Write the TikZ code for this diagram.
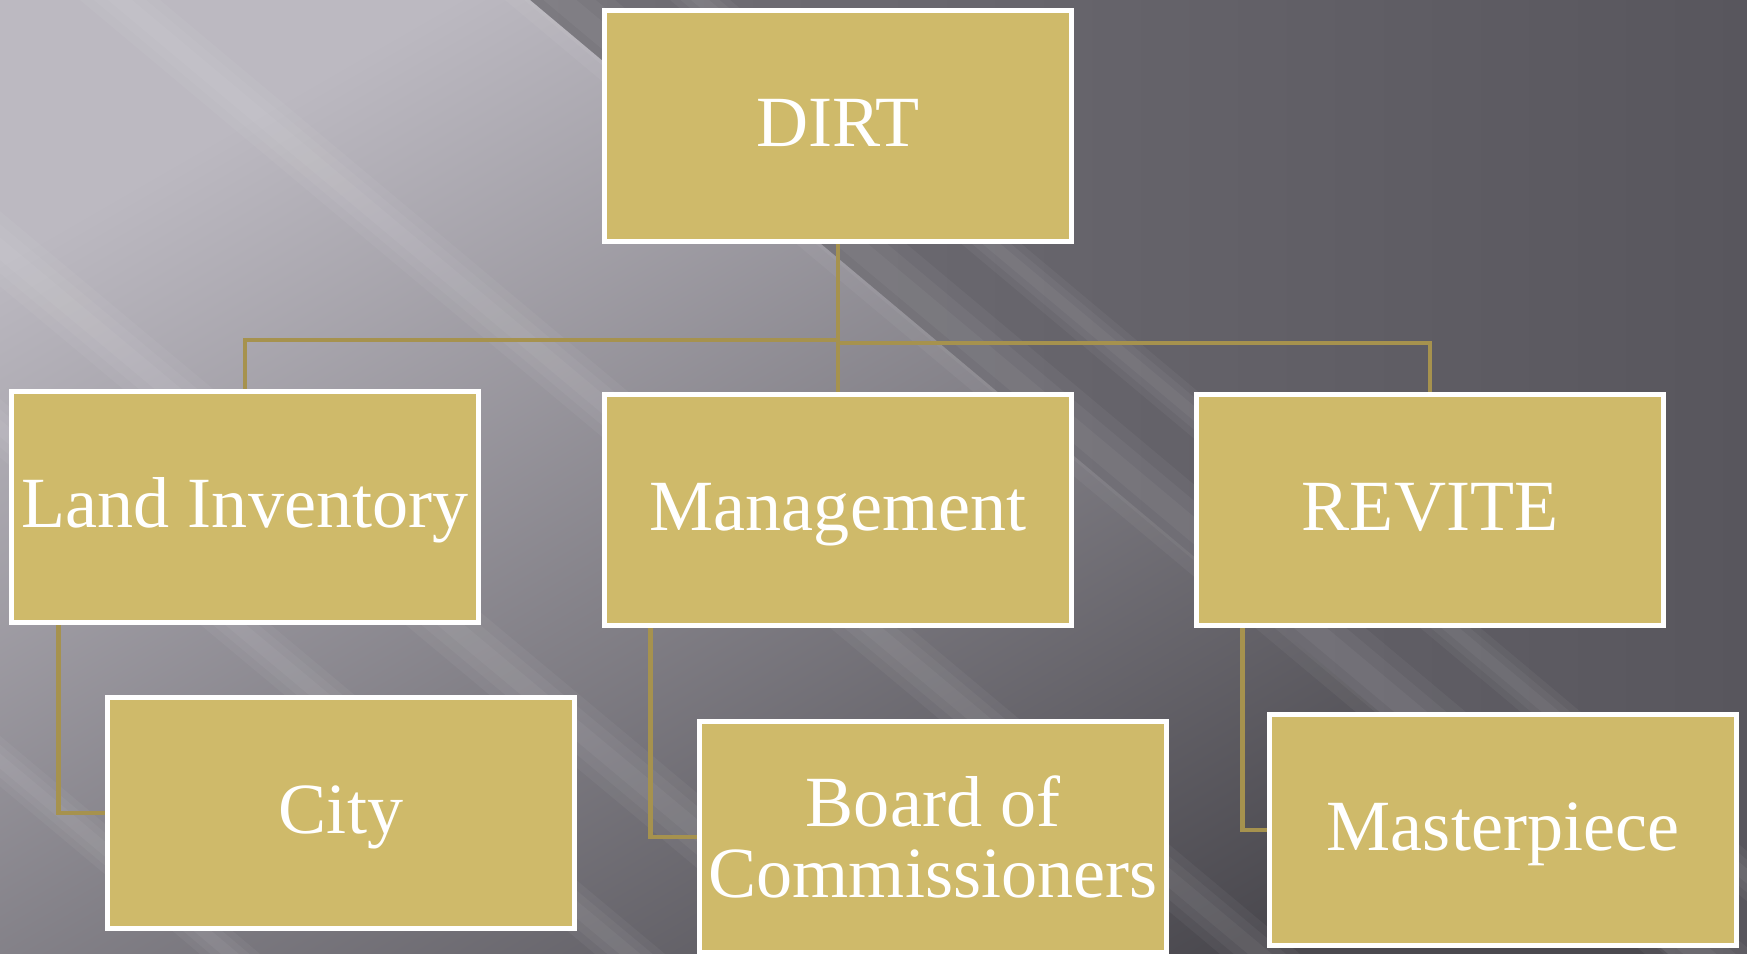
\documentclass[tikz,border=0pt]{standalone}
\usepackage{fontspec}
\setmainfont{Liberation Serif}
\usetikzlibrary{positioning, calc}
\definecolor{BoxGold}{RGB}{207,186,106}
\definecolor{LinkGold}{RGB}{166,146,78}
\definecolor{BgLight}{RGB}{188,185,193}
\definecolor{BgMid}{RGB}{124,122,129}
\definecolor{BgDark}{RGB}{88,86,93}

\begin{document}
\begin{tikzpicture}[
    x=0.01cm, y=-0.01cm,
    unit/.style={rectangle, draw=white, line width=1.4pt, fill=BoxGold,
                 minimum width=4.66cm, minimum height=2.31cm, inner sep=0pt,
                 text=white, font=\fontsize{20.5}{20}\selectfont,
                 text height=11.6pt, text depth=0pt},
    link/.style={LinkGold, line width=1.4pt},
    streak/.style={white, opacity=0.045}
  ]
  % backdrop: dark slate, lighter towards the upper left
  \useasboundingbox (0,0) rectangle (1747,954);
  \shade[left color=BgMid, right color=BgDark] (0,0) rectangle (1747,954);
  \shade[top color=BgLight, bottom color=BgDark!85!black, shading angle=30]
    (0,0) -- (530,0) -- (1668,954) -- (0,954) -- cycle;
  % soft diagonal light bands
  \foreach \sx/\ex/\w in {560/1700/55, 700/1840/30, -298/845/45,
                          -513/630/35, -907/230/30, 120/1260/40}{
    \foreach \f in {1,0.65,0.3}
      \fill[streak] (\sx-\f*\w,0) -- (\sx+\f*\w,0)
                 -- (\ex+\f*\w,954) -- (\ex-\f*\w,954) -- cycle;
  }

  % units
  \node[unit] (dirt)   at (838,126)  {DIRT};
  \node[unit] (land)   at (245,507)  {Land Inventory};
  \node[unit] (mgmt)   at (838,510)  {Management};
  \node[unit] (revite) at (1430,510) {REVITE};
  \node[unit] (city)   at (341,813)  {City};
  \node[unit, align=center, text height=, text depth=]
               (board)  at (933,837)  {Board of\\Commissioners};
  \node[unit] (master) at (1503,830) {Masterpiece};

  % links
  \coordinate (forkL) at (838,340);
  \coordinate (forkR) at (838,343);
  \draw[link] (dirt.south) -- (mgmt.north);
  \draw[link] (forkL) -| (land.north);
  \draw[link] (forkR) -| (revite.north);
  \draw[link] ([xshift=0.49cm]land.south west) |- (city.west);
  \draw[link] ([xshift=0.48cm]mgmt.south west) |- (board.west);
  \draw[link] ([xshift=0.48cm]revite.south west) |- (master.west);
\end{tikzpicture}
\end{document}
